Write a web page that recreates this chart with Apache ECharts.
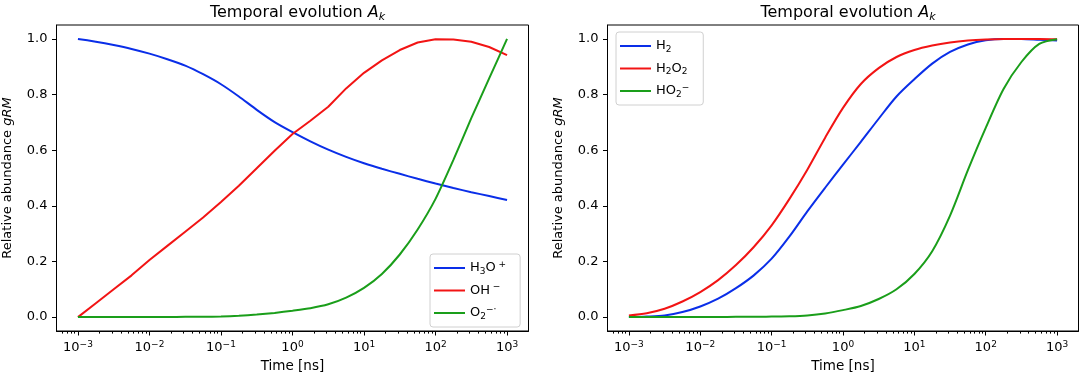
<!DOCTYPE html>
<html>
<head>
<meta charset="utf-8">
<script src="https://cdn.jsdelivr.net/npm/echarts@6/dist/echarts.min.js"></script>
<style>
  html, body { margin: 0; padding: 0; background: #fff; }
  #chart { width: 1084px; height: 379px; }
</style>
</head>
<body>
<div id="chart"></div>
<script>
// time axis is log10(t / ns)
const timeExp = [-3, -2.75, -2.5, -2.25, -2, -1.75, -1.5, -1.25, -1, -0.75, -0.5, -0.25, 0,
  0.25, 0.5, 0.75, 1, 1.25, 1.5, 1.75, 2, 2.25, 2.5, 2.75, 3];

// left panel
const h3o = [1.0, 0.99, 0.978, 0.964, 0.947, 0.927, 0.904, 0.873, 0.837, 0.793, 0.745, 0.701, 0.665,
  0.632, 0.602, 0.576, 0.553, 0.533, 0.515, 0.497, 0.48, 0.464, 0.449, 0.435, 0.421];
const ohMinus = [0, 0.05, 0.1, 0.15, 0.205, 0.256, 0.307, 0.358, 0.414, 0.472, 0.535, 0.598, 0.658,
  0.706, 0.756, 0.822, 0.878, 0.923, 0.96, 0.987, 0.999, 0.998, 0.99, 0.971, 0.942];
const o2Rad = [0, 0, 0, 0, 0, 0, 0.001, 0.001, 0.002, 0.005, 0.009, 0.015, 0.023,
  0.032, 0.046, 0.07, 0.105, 0.155, 0.225, 0.315, 0.425, 0.565, 0.715, 0.858, 1.0];

// right panel
const h2 = [0, 0.002, 0.006, 0.018, 0.038, 0.066, 0.104, 0.15, 0.21, 0.29, 0.38, 0.465, 0.548,
  0.63, 0.713, 0.793, 0.855, 0.911, 0.953, 0.98, 0.995, 1.0, 1.0, 0.997, 0.994];
const h2o2 = [0.006, 0.014, 0.03, 0.056, 0.09, 0.133, 0.187, 0.252, 0.33, 0.425, 0.53, 0.645, 0.752,
  0.838, 0.895, 0.935, 0.96, 0.976, 0.987, 0.994, 0.998, 1.0, 1.0, 1.0, 0.999];
const ho2 = [0, 0, 0, 0, 0, 0, 0.001, 0.001, 0.002, 0.003, 0.006, 0.013, 0.025,
  0.04, 0.065, 0.1, 0.155, 0.237, 0.365, 0.528, 0.68, 0.82, 0.917, 0.982, 0.999];

const xMajor = [-3, -2, -1, 0, 1, 2, 3];
const yMajor = [0, 0.2, 0.4, 0.6, 0.8, 1.0];

const BLUE = '#0a2ee8';
const RED = '#f21414';
const GREEN = '#1a9e1a';
const FONT = 'DejaVu Sans';

// minor ticks at 2..9 x 10^n inside the visible range
const xMinor = [];
for (let n = -4; n <= 3; n++) {
  for (let k = 2; k <= 9; k++) {
    const v = n + Math.log10(k);
    if (v > -3.3 && v < 3.3) xMinor.push(v);
  }
}

const chart = echarts.init(document.getElementById('chart'), null, { renderer: 'canvas' });

const supRich = {
  b: { fontFamily: FONT, fontSize: 13, lineHeight: 16, color: '#000', fontWeight: 'normal' },
  sup: { fontFamily: FONT, fontSize: 9, lineHeight: 6, verticalAlign: 'top', color: '#000', fontWeight: 'normal' },
  sub: { fontFamily: FONT, fontSize: 9, lineHeight: 6, verticalAlign: 'bottom', color: '#000', fontWeight: 'normal' },
  i: { fontFamily: FONT, fontSize: 13, lineHeight: 16, fontStyle: 'italic', color: '#000', fontWeight: 'normal' },
};

const grids = [
  { left: 56.5, top: 25, width: 472, height: 306 },
  { left: 607.5, top: 25, width: 471, height: 306 },
];

function mainX(gi) {
  return {
    type: 'value', gridIndex: gi, min: -3.3, max: 3.3, position: 'bottom',
    name: 'Time [ns]', nameLocation: 'middle', nameGap: 25,
    nameTextStyle: { fontFamily: FONT, fontSize: 13.5, color: '#000' },
    axisLine: { show: true, onZero: false, lineStyle: { color: '#000', width: 1 } },
    axisTick: { show: true, length: 4.5, customValues: xMajor, lineStyle: { color: '#000' } },
    axisLabel: {
      customValues: xMajor, margin: 9,
      formatter: (v) => '{b|10}{sup|' + (v < 0 ? '\u2212' + (-v) : v) + '}',
      rich: supRich,
    },
    splitLine: { show: false },
  };
}

function minorX(gi) {
  return {
    type: 'value', gridIndex: gi, min: -3.3, max: 3.3, position: 'bottom',
    axisLine: { show: false, onZero: false },
    axisTick: { show: true, length: 2.6, customValues: xMinor, lineStyle: { color: '#000' } },
    axisLabel: { show: false },
    splitLine: { show: false },
  };
}

function mainY(gi) {
  return {
    type: 'value', gridIndex: gi, min: -0.05, max: 1.05,
    name: '{b|Relative abundance }{i|gRM}', nameLocation: 'middle', nameGap: 41, nameRotate: 90,
    nameTextStyle: { rich: supRich },
    axisLine: { show: true, onZero: false, lineStyle: { color: '#000', width: 1 } },
    axisTick: { show: true, length: 4.5, customValues: yMajor, lineStyle: { color: '#000' } },
    axisLabel: {
      customValues: yMajor, margin: 9,
      fontFamily: FONT, fontSize: 13, color: '#000',
      formatter: (v) => v.toFixed(1),
    },
    splitLine: { show: false },
  };
}

function line(name, values, color, axis, smooth) {
  return {
    name: name, type: 'line', xAxisIndex: axis, yAxisIndex: axis,
    data: timeExp.map((t, i) => [t, values[i]]),
    symbol: 'none', smooth: smooth, color: color,
    lineStyle: { color: color, width: 2 },
    silent: true, animation: false,
  };
}

const titleRich = {
  b: { fontFamily: FONT, fontSize: 16, lineHeight: 20, color: '#000', fontWeight: 'normal' },
  i: { fontFamily: FONT, fontSize: 16, lineHeight: 20, fontStyle: 'italic', color: '#000', fontWeight: 'normal' },
  sub: { fontFamily: FONT, fontSize: 11, lineHeight: 8, fontStyle: 'italic', verticalAlign: 'bottom', color: '#000', fontWeight: 'normal' },
};

const legendBase = {
  orient: 'vertical', icon: 'rect', itemWidth: 31, itemHeight: 2, itemGap: 6.5,
  padding: [6, 14, 6, 4], borderColor: '#d0d0d0', borderWidth: 1, borderRadius: 3,
  backgroundColor: 'rgba(255,255,255,0.8)',
  textStyle: { fontFamily: FONT, fontSize: 13, color: '#000', lineHeight: 16, rich: supRich },
};

const option = {
  backgroundColor: '#fff',
  animation: false,
  title: [
    { text: '{b|Temporal evolution }{i|A}{sub|k}', left: 292.5, top: -2, textAlign: 'center', textStyle: { rich: titleRich } },
    { text: '{b|Temporal evolution }{i|A}{sub|k}', left: 843, top: -2, textAlign: 'center', textStyle: { rich: titleRich } },
  ],
  legend: [
    Object.assign({}, legendBase, {
      left: 430, top: 254,
      data: ['H3O+', 'OH-', 'O2-'],
      formatter: (n) => ({
        'H3O+': '{b|H}{sub|3}{b|O}{sup| +}',
        'OH-': '{b|OH}{sup| \u2212}',
        'O2-': '{b|O}{sub|2}{sup|\u2212\u00b7}',
      }[n]),
    }),
    Object.assign({}, legendBase, {
      left: 616, top: 32,
      data: ['H2', 'H2O2', 'HO2-'],
      formatter: (n) => ({
        'H2': '{b|H}{sub|2}',
        'H2O2': '{b|H}{sub|2}{b|O}{sub|2}',
        'HO2-': '{b|HO}{sub|2}{sup|\u2212}',
      }[n]),
    }),
  ],
  grid: grids.map((g) => Object.assign({ show: true, borderColor: '#000', borderWidth: 1, backgroundColor: 'transparent' }, g)),
  xAxis: [mainX(0), mainX(1), minorX(0), minorX(1)],
  yAxis: [mainY(0), mainY(1)],
  series: [
    line('H3O+', h3o, BLUE, 0, 0.2),
    line('OH-', ohMinus, RED, 0, false),
    line('O2-', o2Rad, GREEN, 0, 0.2),
    line('H2', h2, BLUE, 1, 0.3),
    line('H2O2', h2o2, RED, 1, 0.3),
    line('HO2-', ho2, GREEN, 1, 0.3),
  ],
};

chart.setOption(option);
</script>
</body>
</html>
